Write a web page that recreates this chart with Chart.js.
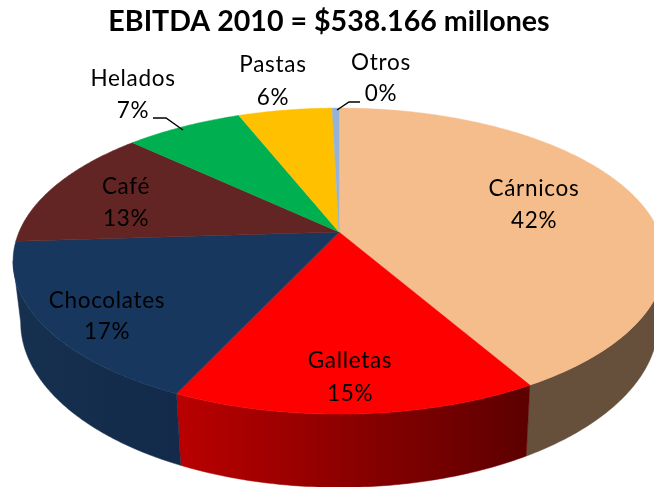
<!DOCTYPE html>
<html>
<head>
<meta charset="utf-8">
<title>EBITDA 2010</title>
<script src="https://cdn.jsdelivr.net/npm/chart.js@4"></script>
<style>
    html, body { margin: 0; padding: 0; background: #fff; overflow: hidden; }
    canvas { display: block; }
</style>
</head>
<body>
<canvas id="pieChart" width="654" height="487"></canvas>
<script>
// Data
const categories = ['Cárnicos', 'Galletas', 'Chocolates', 'Café', 'Helados', 'Pastas', 'Otros'];
const shares = [41.7, 15.2, 17.1, 13, 7, 5.6, 0.4];
const chartTitle = 'EBITDA 2010 = $538.166 millones';

// Colours
const topColors = ['#f6bd8c', '#ff0000', '#17375e', '#632523', '#00b050', '#ffc000', '#95b3d7'];
const wallFrom = ['#66503c', '#ba0000', '#16304f', null, null, null, null];
const wallTo = ['#66503c', '#5c0000', '#132a4a', null, null, null, null];

// Label placement, centre x and the y of the two text lines
const labelX = [534, 350, 107, 126, 133, 273, 381];
const labelY1 = [189, 361, 301, 187, 79, 65, 63];
const labelY2 = [221, 394, 332, 219, 111, 98, 94];

// Leader lines for the two small slices
const leaders = [
    [[153, 118], [166, 118], [183, 130]],
    [[360, 102], [349, 102], [337, 110]]
];

// Perspective of the disc: the top face and the smaller face below it
const tilt = -0.19;
const topFace = { x: 339, y: 232, sx: 320, sy: 147.5 };
const lowFace = { x: 339.5, y: 291, sx: 313, sy: 159 };

// The disc is widest at this angle, walls stop there so their edge is the silhouette
const sideAngle = Math.asin(-tilt);

function project(angle, face) {
    const x = Math.cos(angle);
    const y = Math.sin(angle);
    const d = 1 + tilt * y;
    return {
        x: face.x + face.sx * x / d,
        y: face.y + face.sy * y / d
    };
}

function anglesBetween(start, end) {
    const list = [];
    const steps = Math.max(2, Math.ceil((end - start) / 0.01));
    for (let i = 0; i <= steps; i++) {
        list.push(start + (end - start) * i / steps);
    }
    return list;
}

const pie3d = {
    id: 'pie3d',
    beforeDatasetDraw(chart, args) {
        const ctx = chart.ctx;
        const arcs = args.meta.data;

        // Outer walls first, the top covers what is behind it
        arcs.forEach((arc, i) => {
            if (!wallFrom[i]) return;
            const start = Math.max(arc.startAngle, sideAngle);
            const end = Math.min(arc.endAngle, Math.PI - sideAngle);
            if (end <= start) return;
            const angles = anglesBetween(start, end);
            const upper = angles.map(a => project(a, topFace));
            const lower = angles.map(a => project(a, lowFace)).reverse();
            const xs = upper.concat(lower).map(p => p.x);
            const grad = ctx.createLinearGradient(Math.min(...xs), 0, Math.max(...xs), 0);
            grad.addColorStop(0, wallFrom[i]);
            grad.addColorStop(1, wallTo[i]);
            ctx.beginPath();
            upper.concat(lower).forEach((p, n) => n ? ctx.lineTo(p.x, p.y) : ctx.moveTo(p.x, p.y));
            ctx.closePath();
            ctx.fillStyle = grad;
            ctx.strokeStyle = grad;
            ctx.lineWidth = 0.5;
            ctx.fill();
            ctx.stroke();
        });

        // Top face of every slice
        arcs.forEach((arc, i) => {
            ctx.beginPath();
            ctx.moveTo(topFace.x, topFace.y);
            anglesBetween(arc.startAngle, arc.endAngle).forEach(a => {
                const p = project(a, topFace);
                ctx.lineTo(p.x, p.y);
            });
            ctx.closePath();
            ctx.fillStyle = topColors[i];
            ctx.strokeStyle = topColors[i];
            ctx.lineWidth = 0.5;
            ctx.fill();
            ctx.stroke();
        });
        return false;
    },
    afterDatasetsDraw(chart) {
        const ctx = chart.ctx;
        const total = shares.reduce((a, b) => a + b, 0);
        ctx.save();
        ctx.fillStyle = '#000';
        ctx.font = '22.5px Lato';
        ctx.letterSpacing = '0.7px';
        ctx.textAlign = 'center';
        ctx.textBaseline = 'middle';
        categories.forEach((name, i) => {
            ctx.fillText(name, labelX[i], labelY1[i]);
            ctx.fillText(Math.round(shares[i] / total * 100) + '%', labelX[i], labelY2[i]);
        });
        ctx.letterSpacing = '0px';
        ctx.strokeStyle = '#000';
        ctx.lineWidth = 1.4;
        leaders.forEach(line => {
            ctx.beginPath();
            line.forEach((p, n) => n ? ctx.lineTo(p[0], p[1]) : ctx.moveTo(p[0], p[1]));
            ctx.stroke();
        });
        ctx.restore();
    }
};

new Chart(document.getElementById('pieChart').getContext('2d'), {
    type: 'pie',
    data: {
        labels: categories,
        datasets: [{
            data: shares,
            backgroundColor: topColors,
            borderWidth: 0
        }]
    },
    options: {
        responsive: false,
        animation: false,
        events: [],
        layout: { padding: { left: 4 } },
        plugins: {
            legend: { display: false },
            tooltip: { enabled: false },
            title: {
                display: true,
                fullSize: false,
                text: chartTitle,
                color: '#000',
                font: { family: 'Lato', size: 28.6, weight: 'bold' },
                padding: { top: 5, bottom: 4 }
            }
        }
    },
    plugins: [pie3d]
});
</script>
</body>
</html>
